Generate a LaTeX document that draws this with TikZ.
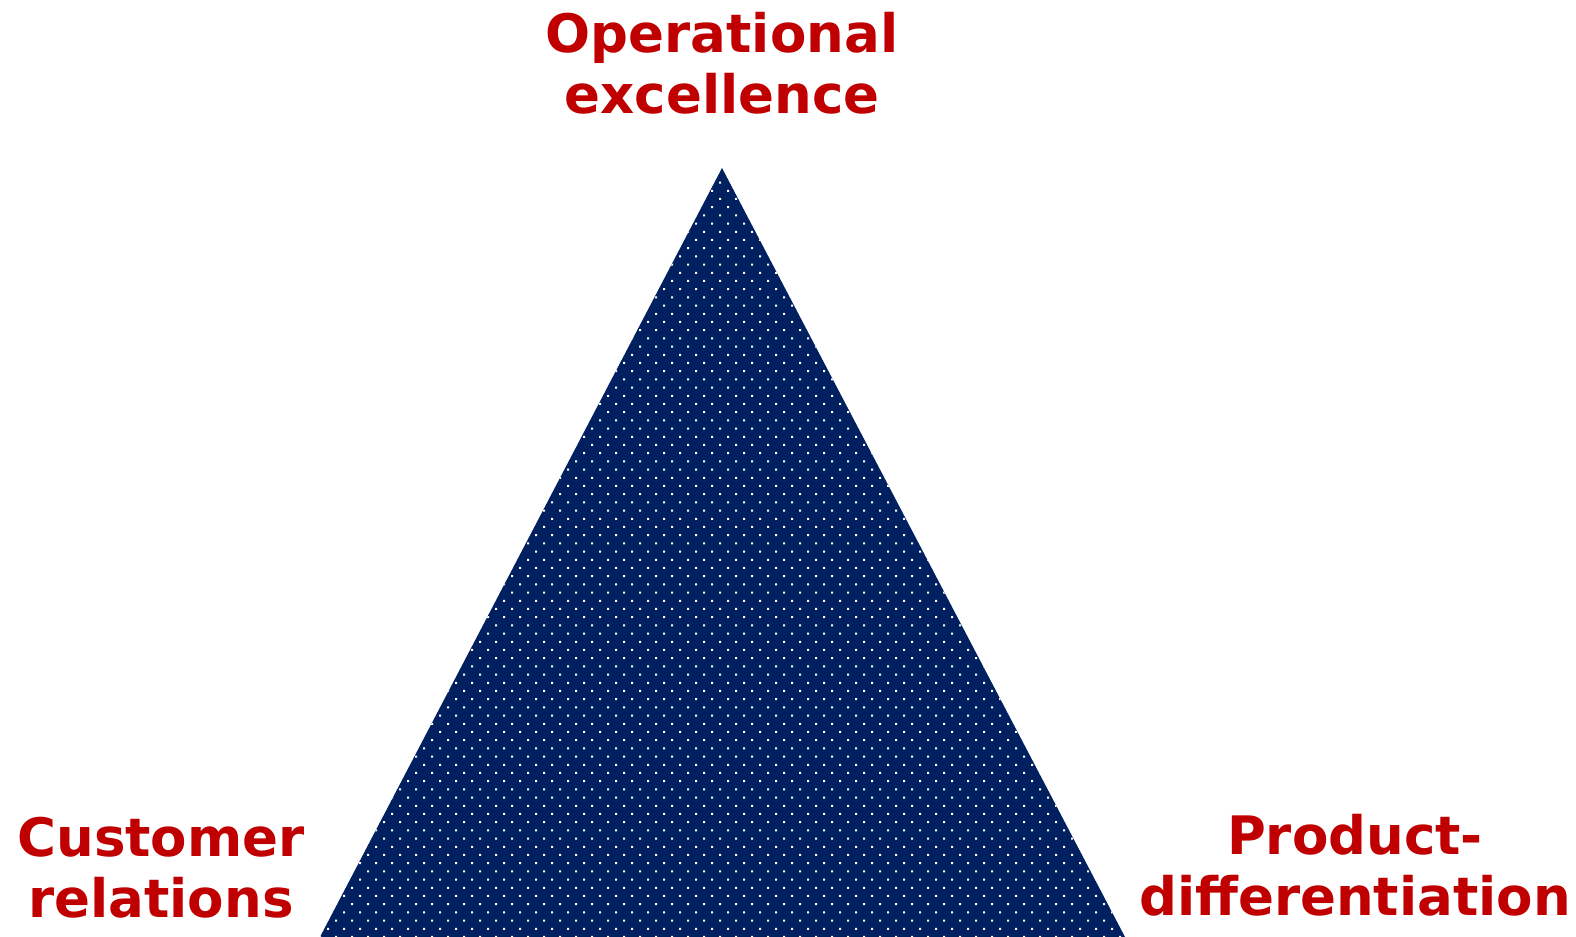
\documentclass[tikz,border=0pt]{standalone}
\usepackage{fontspec}
\setmainfont{DejaVu Sans}
\usetikzlibrary{patterns}
\definecolor{stratred}{HTML}{C00000}
\definecolor{stratnavy}{HTML}{002060}

% white dot texture on the triangle
\pgfdeclarepatternformonly{whitedots}{\pgfqpoint{-1pt}{-1pt}}{\pgfqpoint{9pt}{9.2pt}}{\pgfqpoint{8pt}{8.2pt}}{
  \pgfpathrectangle{\pgfqpoint{-0.5pt}{-0.5pt}}{\pgfqpoint{1pt}{1pt}}
  \pgfpathrectangle{\pgfqpoint{3.5pt}{3.6pt}}{\pgfqpoint{1pt}{1pt}}
  \pgfusepath{fill}}

\tikzset{
  corner/.style={text=stratred, font=\bfseries\fontsize{26.5}{30.5}\selectfont,
    align=center, inner sep=0pt}
}

\begin{document}
\begin{tikzpicture}[x=0.5pt, y=-0.5pt]
\useasboundingbox (0,0) rectangle (1576,937);

% Triangle
\coordinate (top) at (722,168);
\coordinate (left) at (320,937);
\coordinate (right) at (1125,937);
\fill[stratnavy] (top) -- (left) -- (right) -- cycle;
\fill[pattern=whitedots, pattern color=white] (top) -- (left) -- (right) -- cycle;

% Labels
\node[corner] (opex) at (722,63) {Operational\\excellence};
\node[corner] (cust) at (161,868) {Customer\\relations};
\node[corner] (prod) at (1355,865) {Product-\\differentiation};

\end{tikzpicture}
\end{document}
